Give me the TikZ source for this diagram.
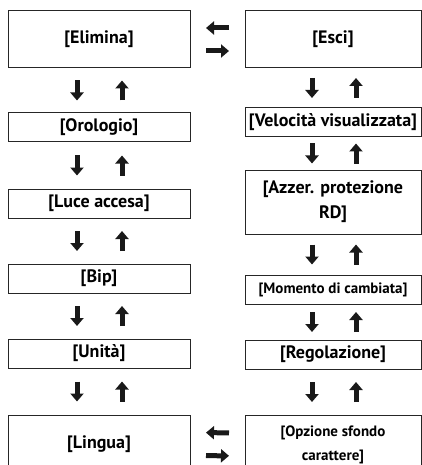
\documentclass[tikz,border=0pt]{standalone}
\usepackage{fontspec}
\setmainfont{PT Sans}
\usetikzlibrary{arrows.meta, positioning, calc}

\begin{document}
\begin{tikzpicture}[x=1pt, y=-1pt,
  node distance=45pt,
  menu/.style={rectangle, draw=black!85, line width=1pt, minimum width=182pt,
               minimum height=29pt, inner sep=1pt, align=center,
               font=\bfseries\fontsize{18}{25}\selectfont},
  menur/.style={menu, minimum width=176pt},
  small/.style={font=\bfseries\fontsize{15}{24}\selectfont},
  move/.style={-{Triangle[width=13pt, length=8pt]}, line width=5pt, black!90},
  link/.style={to path={($(\tikztostart)!.5!(\tikztotarget)!#1!(\tikztostart)$)
                     -- ($(\tikztostart)!.5!(\tikztotarget)!#1!(\tikztotarget)$)}},
  link/.default=10pt,
]
  \useasboundingbox (0,0) rectangle (421,465);

  % left column
  \node[menu, minimum height=57pt] (elimina) at (99,39.5) {[Elimina]};
  \node[menu, below=44pt of elimina] (orologio) {[Orologio]};
  \node[menu, below=46pt of orologio] (luce) {[Luce accesa]};
  \node[menu, below=of luce] (bip) {[Bip]};
  \node[menu, below=of bip] (unita) {[Unità]};
  \node[menu, minimum height=58pt, below=46pt of unita] (lingua) {[Lingua]};

  % right column
  \node[menur, minimum height=57pt, right=54pt of elimina] (esci) {[Esci]};
  \node[menur, below=39pt of esci] (velocita) {[Velocità visualizzata]};
  \node[menur, minimum height=64pt, below=32pt of velocita] (azzer)
    {[Azzer. protezione\\RD]};
  \node[menur, small, below=40pt of azzer] (momento) {[Momento di cambiata]};
  \node[menur, below=35pt of momento] (regolazione) {[Regolazione]};
  \node[menur, small, minimum height=59pt, below=of regolazione] (opzione)
    {[Opzione sfondo\\carattere]};

  % left/right
  \draw[move] ([yshift=11.5pt]esci.west) to[link=11.5pt] ([yshift=11.5pt]elimina.east);
  \draw[move] ([yshift=-11.5pt]elimina.east) to[link=11.5pt] ([yshift=-11.5pt]esci.west);
  \draw[move] ([yshift=11.5pt]opzione.west) to[link=11.5pt] ([yshift=11.5pt]lingua.east);
  \draw[move] ([yshift=-11.5pt]lingua.east) to[link=11.5pt] ([yshift=-11.5pt]opzione.west);

  % left column up/down
  \draw[move] ([xshift=-22pt]elimina.south) to[link] ([xshift=-22pt]orologio.north);
  \draw[move] ([xshift=23pt]orologio.north) to[link] ([xshift=23pt]elimina.south);
  \draw[move] ([xshift=-22pt]orologio.south) to[link] ([xshift=-22pt]luce.north);
  \draw[move] ([xshift=23pt]luce.north) to[link] ([xshift=23pt]orologio.south);
  \draw[move] ([xshift=-22pt]luce.south) to[link] ([xshift=-22pt]bip.north);
  \draw[move] ([xshift=23pt]bip.north) to[link] ([xshift=23pt]luce.south);
  \draw[move] ([xshift=-22pt]bip.south) to[link] ([xshift=-22pt]unita.north);
  \draw[move] ([xshift=23pt]unita.north) to[link] ([xshift=23pt]bip.south);
  \draw[move] ([xshift=-22pt]unita.south) to[link] ([xshift=-22pt]lingua.north);
  \draw[move] ([xshift=23pt]lingua.north) to[link] ([xshift=23pt]unita.south);

  % right column up/down
  \draw[move] ([xshift=-21pt]esci.south) to[link] ([xshift=-21pt]velocita.north);
  \draw[move] ([xshift=23pt]velocita.north) to[link] ([xshift=23pt]esci.south);
  \draw[move] ([xshift=-21pt]velocita.south) to[link] ([xshift=-21pt]azzer.north);
  \draw[move] ([xshift=23pt]azzer.north) to[link] ([xshift=23pt]velocita.south);
  \draw[move] ([xshift=-21pt]azzer.south) to[link] ([xshift=-21pt]momento.north);
  \draw[move] ([xshift=23pt]momento.north) to[link] ([xshift=23pt]azzer.south);
  \draw[move] ([xshift=-21pt]momento.south) to[link] ([xshift=-21pt]regolazione.north);
  \draw[move] ([xshift=23pt]regolazione.north) to[link] ([xshift=23pt]momento.south);
  \draw[move] ([xshift=-21pt]regolazione.south) to[link] ([xshift=-21pt]opzione.north);
  \draw[move] ([xshift=23pt]opzione.north) to[link] ([xshift=23pt]regolazione.south);
\end{tikzpicture}
\end{document}
